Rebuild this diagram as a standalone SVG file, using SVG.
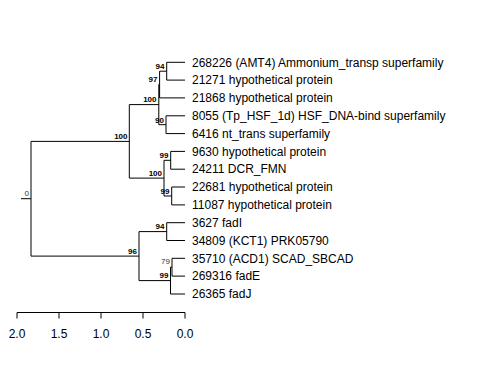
<svg xmlns="http://www.w3.org/2000/svg" width="480" height="384" viewBox="0 0 480 384">
<style>
.e{stroke:#000;stroke-width:1;fill:none;shape-rendering:auto}
.lf{font-family:"Liberation Sans",Arial,sans-serif;font-size:12px;fill:#000}
.bs{font-family:"Liberation Sans",Arial,sans-serif;font-size:8px;font-weight:bold;fill:#000;text-anchor:end}
.bn{font-family:"Liberation Sans",Arial,sans-serif;font-size:8px;fill:#333;text-anchor:end}
.ax{font-family:"Liberation Sans",Arial,sans-serif;font-size:12px;fill:#000;text-anchor:middle}
</style>
<rect width="480" height="384" fill="#fff"/>
<g id="connectors" class="e">
<path d="M21 198.7H31M31 141.4V256.1M31 141.4H129.3M31 256.1H139"/>
<path d="M129.3 104.6V178.1M129.3 104.6H158.8M129.3 178.1H164"/>
<path d="M158.8 84.6V124.7M158.8 84.6H159.6M158.8 124.7H166"/>
<path d="M159.6 71.2V97.9M159.6 71.2H166.7M159.6 97.9H185"/>
<path d="M166.7 62.3V80.1M166.7 62.3H185M166.7 80.1H185"/>
<path d="M166 115.8V133.6M166 115.8H185M166 133.6H185"/>
<path d="M164 160.3V196M164 160.3H170.7M164 196H171.7"/>
<path d="M170.7 151.4V169.2M170.7 151.4H185M170.7 169.2H185"/>
<path d="M171.7 187V204.9M171.7 187H185M171.7 204.9H185"/>
<path d="M139 231.6V280.6M139 231.6H166.7M139 280.6H170.5"/>
<path d="M166.7 222.7V240.5M166.7 222.7H185M166.7 240.5H185"/>
<path d="M170.5 267.2V294M170.5 267.2H172M170.5 294H185"/>
<path d="M172 258.3V276.1M172 258.3H185M172 276.1H185"/>
</g>
<g id="leaves">
<text id="n268226" class="lf" x="192" y="66.5">268226 (AMT4) Ammonium_transp superfamily</text>
<text id="n21271" class="lf" x="192" y="84.3">21271 hypothetical protein</text>
<text id="n21868" class="lf" x="192" y="102.1">21868 hypothetical protein</text>
<text id="n8055" class="lf" x="192" y="120">8055 (Tp_HSF_1d) HSF_DNA-bind superfamily</text>
<text id="n6416" class="lf" x="192" y="137.8">6416 nt_trans superfamily</text>
<text id="n9630" class="lf" x="192" y="155.6">9630 hypothetical protein</text>
<text id="n24211" class="lf" x="192" y="173.4">24211 DCR_FMN</text>
<text id="n22681" class="lf" x="192" y="191.2">22681 hypothetical protein</text>
<text id="n11087" class="lf" x="192" y="209.1">11087 hypothetical protein</text>
<text id="n3627" class="lf" x="192" y="226.9">3627 fadI</text>
<text id="n34809" class="lf" x="192" y="244.7">34809 (KCT1) PRK05790</text>
<text id="n35710" class="lf" x="192" y="262.5">35710 (ACD1) SCAD_SBCAD</text>
<text id="n269316" class="lf" x="192" y="280.3">269316 fadE</text>
<text id="n26365" class="lf" x="192" y="298.2">26365 fadJ</text>
</g>
<g id="support">
<text class="bn" x="29" y="196">0</text>
<text class="bs" x="127.5" y="139">100</text>
<text class="bs" x="156.5" y="102">100</text>
<text class="bs" x="157.5" y="82">97</text>
<text class="bs" x="164.5" y="68.5">94</text>
<text class="bs" x="164" y="122.5">90</text>
<text class="bs" x="162" y="175.5">100</text>
<text class="bs" x="168.5" y="158">99</text>
<text class="bs" x="169.5" y="193.5">99</text>
<text class="bs" x="137" y="253.5">96</text>
<text class="bs" x="164.5" y="229">94</text>
<text class="bn" x="170" y="264">79</text>
<text class="bs" x="168.5" y="278">99</text>
</g>
<g id="axis">
<path class="e" d="M17 312.5H185M17 312.5V318.5M59 312.5V318.5M101 312.5V318.5M143 312.5V318.5M185 312.5V318.5"/>
<text class="ax" x="17" y="337.5">2.0</text>
<text class="ax" x="59" y="337.5">1.5</text>
<text class="ax" x="101" y="337.5">1.0</text>
<text class="ax" x="143" y="337.5">0.5</text>
<text class="ax" x="185" y="337.5">0.0</text>
</g>
</svg>
